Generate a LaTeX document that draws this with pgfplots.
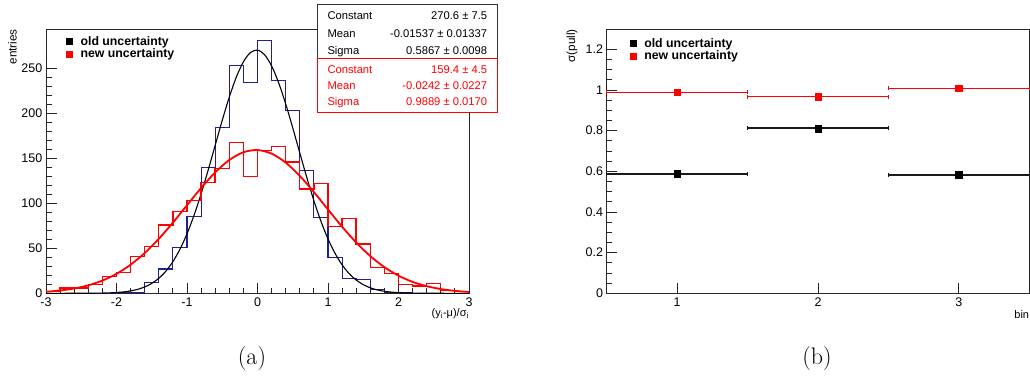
\documentclass[border=0pt]{standalone}
\usepackage{fontspec}
\usepackage{pgfplots}
\pgfplotsset{compat=1.18}
\newfontfamily\arial{Liberation Sans}
\definecolor{rootblue}{rgb}{0.12,0.12,0.6}

\pgfplotstableread{
x y
-3.0 0
-2.8 0
-2.6 0
-2.4 0
-2.2 0
-2.0 1
-1.8 1
-1.6 12
-1.4 27
-1.2 51
-1.0 85
-0.8 140
-0.6 184
-0.4 253
-0.2 234
0.0 281
0.2 237
0.4 203
0.6 137
0.8 84
1.0 40
1.2 16
1.4 15
1.6 4
1.8 1
2.0 1
2.2 0
2.4 0
2.6 0
2.8 0
3.0 0
}\oldhist

\pgfplotstableread{
x y
-3.0 2
-2.8 6
-2.6 6
-2.4 10
-2.2 19
-2.0 23
-1.8 41
-1.6 52
-1.4 76
-1.2 91
-1.0 103
-0.8 123
-0.6 139
-0.4 168
-0.2 130
0.0 159
0.2 163
0.4 146
0.6 116
0.8 122
1.0 74
1.2 83
1.4 55
1.6 29
1.8 22
2.0 10
2.2 8
2.4 11
2.6 3
2.8 2
3.0 2
}\newhist

\pgfplotsset{
  rootstyle/.style={
    scale only axis,
    axis line style={line width=0.9pt, black!85},
    tick style={line width=0.8pt, black!85},
    major tick length=10.5pt, minor tick length=5.5pt,
    tick align=inside, xtick pos=bottom, ytick pos=left,
    ticklabel style={font=\arial\fontsize{12.5}{14}\selectfont, inner sep=0pt},
    xticklabel style={yshift=-4pt},
    yticklabel style={xshift=-3.5pt},
    legend image code/.code={\fill[##1] (0pt,-3pt) rectangle (6pt,3pt);},
    legend cell align=left,
    legend style={draw=none, fill=none, inner sep=0pt, row sep=0pt, column sep=7pt,
      font=\arial\bfseries\fontsize{12.3}{14}\selectfont, nodes={inner sep=1pt}},
  }
}

\begin{document}
\begin{tikzpicture}[x=1pt,y=1pt]
\path[use as bounding box] (0,0) rectangle (1030,376);

\begin{axis}[rootstyle,
  at={(46pt,82.7pt)}, anchor=south west, width=423pt, height=264.3pt,
  xmin=-3, xmax=3, ymin=0, ymax=294,
  xtick={-3,-2,-1,0,1,2,3}, xticklabels={-3,-2,-1,0,1,2,3}, minor x tick num=4,
  ytick={0,50,100,150,200,250}, yticklabels={0,50,100,150,200,250}, minor y tick num=4,
  xlabel={(y\textsubscript{i}-μ)/σ\textsubscript{i}},
  xlabel style={at={(rel axis cs:1,0)}, anchor=north east, yshift=-15pt, inner sep=0pt,
    font=\arial\fontsize{11}{13}\selectfont},
  ylabel={entries},
  ylabel style={at={([xshift=-29pt]rel axis cs:0,1)}, anchor=south east, inner sep=0pt,
    font=\arial\fontsize{11.7}{13}\selectfont},
  legend style={at={([xshift=20pt,yshift=-6pt]rel axis cs:0,1)}, anchor=north west},
]
\addplot[forget plot, const plot mark left, rootblue, line width=1.1pt] table[x=x,y=y] {\oldhist};
\addplot[forget plot, smooth, black, line width=1.1pt] coordinates {
(-3,0.00) (-2.8,0.00) (-2.6,0.02) (-2.5,0.03) (-2.4,0.07) (-2.3,0.14) (-2.2,0.26) (-2.1,0.49)
(-2.0,0.89) (-1.9,1.56) (-1.8,2.65) (-1.7,4.39) (-1.6,7.05) (-1.5,11.01) (-1.4,16.70)
(-1.3,24.62) (-1.2,35.24) (-1.1,49.00) (-1.0,66.18) (-0.9,86.82) (-0.8,110.65) (-0.7,136.97)
(-0.6,164.71) (-0.5,192.39) (-0.4,218.28) (-0.3,240.56) (-0.2,257.53) (-0.1,267.80)
(0,270.51) (0.1,265.42) (0.2,252.97) (0.3,234.20) (0.4,210.61) (0.5,183.98) (0.6,156.10)
(0.7,128.67) (0.8,103.01) (0.9,80.12) (1.0,60.53) (1.1,44.42) (1.2,31.65) (1.3,21.92)
(1.4,14.74) (1.5,9.63) (1.6,6.11) (1.7,3.77) (1.8,2.26) (1.9,1.31) (2.0,0.74) (2.1,0.41)
(2.2,0.22) (2.4,0.06) (2.6,0.01) (2.8,0.00) (3,0.00)};
\addplot[forget plot, const plot mark left, red, line width=1.4pt] table[x=x,y=y] {\newhist};
\addplot[forget plot, smooth, red, line width=1.8pt] coordinates {
(-3.0,1.72) (-2.8,3.10) (-2.6,5.36) (-2.4,8.90) (-2.2,14.17) (-2.0,21.66) (-1.8,31.79)
(-1.6,44.78) (-1.4,60.56) (-1.2,78.61) (-1.0,97.96) (-0.8,117.18) (-0.6,134.54)
(-0.4,148.30) (-0.2,156.90) (0,159.35) (0.2,155.36) (0.4,145.39) (0.6,130.61)
(0.8,112.63) (1.0,93.23) (1.2,74.08) (1.4,56.50) (1.6,41.37) (1.8,29.08) (2.0,19.62)
(2.2,12.71) (2.4,7.90) (2.6,4.71) (2.8,2.70) (3.0,1.48)};
\addlegendimage{black}
\addlegendentry{old uncertainty}
\addlegendimage{red}
\addlegendentry{new uncertainty}
\end{axis}

% stats boxes
\draw[black!80, line width=1pt, fill=white] (317.7,371) rectangle (497.7,317.7);
\draw[red, line width=1pt, fill=white] (317.7,317.7) rectangle (497.7,263.3);
\begin{scope}[every node/.style={inner sep=0pt, font=\arial\fontsize{11.2}{13}\selectfont}]
\node[anchor=base west] at (327.3,357) {Constant};
\node[anchor=base east] at (487.3,357) {270.6 ± 7.5};
\node[anchor=base west] at (327.3,339) {Mean};
\node[anchor=base east] at (487.3,339) {-0.01537 ± 0.01337};
\node[anchor=base west] at (327.3,321.3) {Sigma};
\node[anchor=base east] at (487.3,321.3) {0.5867 ± 0.0098};
\node[anchor=base west, text=red] at (327.3,303) {Constant};
\node[anchor=base east, text=red] at (487.3,303) {159.4 ± 4.5};
\node[anchor=base west, text=red] at (327.3,287) {Mean};
\node[anchor=base east, text=red] at (487.3,287) {-0.0242 ± 0.0227};
\node[anchor=base west, text=red] at (327.3,270.3) {Sigma};
\node[anchor=base east, text=red] at (487.3,270.3) {0.9889 ± 0.0170};
\end{scope}

\begin{axis}[rootstyle,
  at={(606.7pt,82.7pt)}, anchor=south west, width=422.6pt, height=264.3pt,
  xmin=0.5, xmax=3.5, ymin=0, ymax=1.3,
  xtick={1,2,3}, xticklabels={1,2,3}, minor x tick num=0,
  ytick={0,0.2,0.4,0.6,0.8,1,1.2}, yticklabels={0,0.2,0.4,0.6,0.8,1,1.2}, minor y tick num=3,
  xlabel={bin},
  xlabel style={at={(rel axis cs:1,0)}, anchor=north east, yshift=-17pt, inner sep=0pt,
    font=\arial\fontsize{11}{13}\selectfont},
  ylabel={σ(pull)},
  ylabel style={at={([xshift=-29pt]rel axis cs:0,1)}, anchor=south east, inner sep=0pt,
    font=\arial\fontsize{11.7}{13}\selectfont},
  legend style={at={([xshift=23pt,yshift=-8pt]rel axis cs:0,1)}, anchor=north west},
  unbounded coords=jump,
]
% horizontal bin-width bars (bin edges) with small end caps
\addplot[forget plot, black!90, line width=1.9pt, mark=|, mark size=2pt,
  mark options={line width=1.2pt}]
  coordinates {(0.5,0.587) (1.5,0.587) (1.5,nan) (1.5,0.811) (2.5,0.811) (2.5,nan) (2.5,0.584) (3.5,0.584)};
\addplot[forget plot, red, line width=1.45pt, mark=|, mark size=2pt,
  mark options={line width=1.2pt}]
  coordinates {(0.5,0.989) (1.5,0.989) (1.5,nan) (1.5,0.968) (2.5,0.968) (2.5,nan) (2.5,1.008) (3.5,1.008)};
\addplot[forget plot, only marks, black, mark=square*, mark size=3.3pt]
  coordinates {(1,0.587) (2,0.811) (3,0.584)};
\addplot[forget plot, only marks, red, mark=square*, mark size=3.3pt]
  coordinates {(1,0.989) (2,0.968) (3,1.008)};
\addlegendimage{black}
\addlegendentry{old uncertainty}
\addlegendimage{red}
\addlegendentry{new uncertainty}
\end{axis}

\node[font=\fontsize{24}{28}\selectfont, inner sep=0pt] at (252,17) {(a)};
\node[font=\fontsize{24}{28}\selectfont, inner sep=0pt] at (817,17) {(b)};
\end{tikzpicture}
\end{document}
